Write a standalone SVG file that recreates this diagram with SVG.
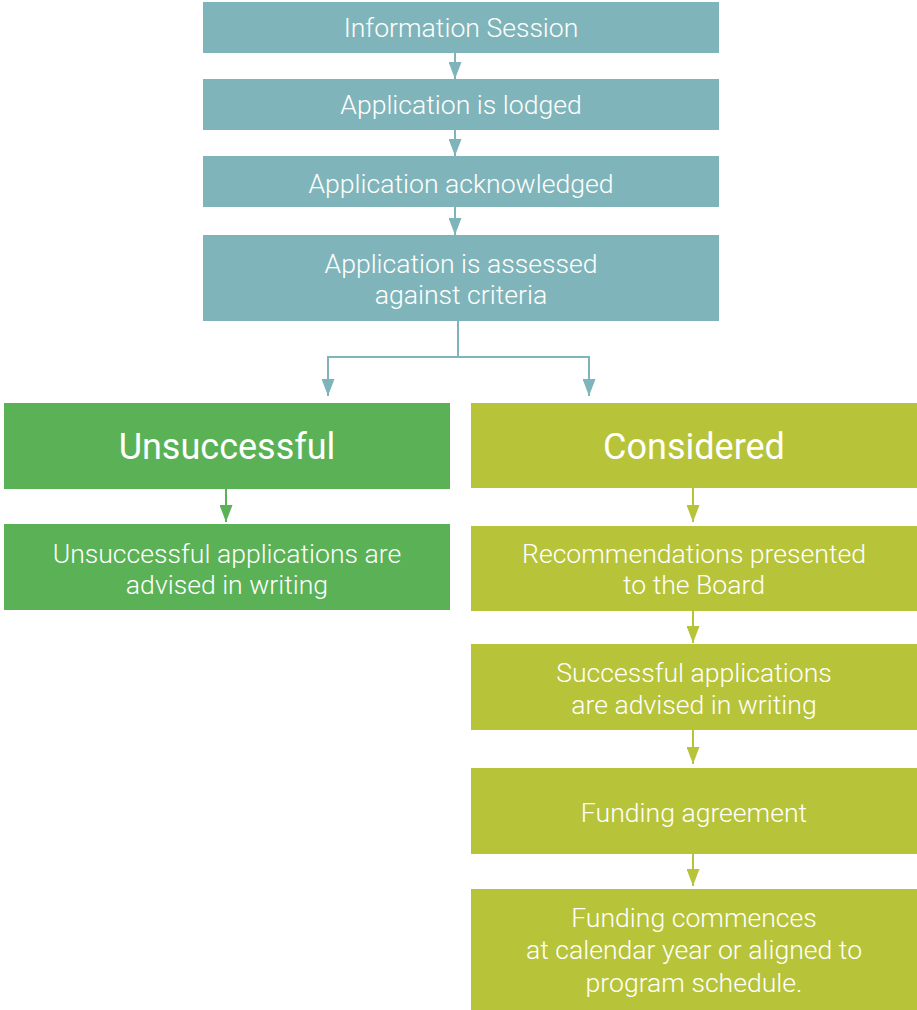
<svg xmlns="http://www.w3.org/2000/svg" width="917" height="1010" viewBox="0 0 917 1010">
  <style>
    .teal { fill: #7fb5ba; }
    .green { fill: #5bb256; }
    .olive { fill: #b7c43a; }
    .lbl { font-family: Roboto, "Liberation Sans", sans-serif; font-weight: 300; font-size: 26.6px; fill: #ffffff; text-anchor: middle; }
    .head { font-family: Roboto, "Liberation Sans", sans-serif; font-weight: 400; font-size: 36px; fill: #ffffff; text-anchor: middle; }
    .ln-teal { stroke: #7fb5ba; stroke-width: 2; fill: none; }
    .ln-green { stroke: #5bb256; stroke-width: 2; fill: none; }
    .ln-olive { stroke: #b7c43a; stroke-width: 2; fill: none; }
  </style>
  <defs>
    <marker id="ah-teal" viewBox="0 0 17 13" refX="17" refY="6.5" markerWidth="17" markerHeight="13" markerUnits="userSpaceOnUse" orient="auto">
      <path d="M0,0 L17,6.5 L0,13 Z" fill="#7fb5ba"/>
    </marker>
    <marker id="ah-green" viewBox="0 0 17 13" refX="17" refY="6.5" markerWidth="17" markerHeight="13" markerUnits="userSpaceOnUse" orient="auto">
      <path d="M0,0 L17,6.5 L0,13 Z" fill="#5bb256"/>
    </marker>
    <marker id="ah-olive" viewBox="0 0 17 13" refX="17" refY="6.5" markerWidth="17" markerHeight="13" markerUnits="userSpaceOnUse" orient="auto">
      <path d="M0,0 L17,6.5 L0,13 Z" fill="#b7c43a"/>
    </marker>
  </defs>

  <g id="connectors">
    <path class="ln-teal" d="M455,53 V79" marker-end="url(#ah-teal)"/>
    <path class="ln-teal" d="M455,130 V156" marker-end="url(#ah-teal)"/>
    <path class="ln-teal" d="M455,207 V235" marker-end="url(#ah-teal)"/>
    <path class="ln-teal" d="M458,321 V357 H328 V396" marker-end="url(#ah-teal)"/>
    <path class="ln-teal" d="M458,357 H589 V396" marker-end="url(#ah-teal)"/>
    <path class="ln-green" d="M226,489 V522" marker-end="url(#ah-green)"/>
    <path class="ln-olive" d="M693,488 V522" marker-end="url(#ah-olive)"/>
    <path class="ln-olive" d="M693,611 V643" marker-end="url(#ah-olive)"/>
    <path class="ln-olive" d="M693,730 V764" marker-end="url(#ah-olive)"/>
    <path class="ln-olive" d="M693,854 V886" marker-end="url(#ah-olive)"/>
  </g>

  <g id="info-session">
    <rect class="teal" x="203" y="2" width="516" height="51"/>
    <text class="lbl" x="461" y="37">Information Session</text>
  </g>
  <g id="lodged">
    <rect class="teal" x="203" y="79" width="516" height="51"/>
    <text class="lbl" x="461" y="114">Application is lodged</text>
  </g>
  <g id="acknowledged">
    <rect class="teal" x="203" y="156" width="516" height="51"/>
    <text class="lbl" x="461" y="193">Application acknowledged</text>
  </g>
  <g id="assessed">
    <rect class="teal" x="203" y="235" width="516" height="86"/>
    <text class="lbl" x="461" y="273">Application is assessed</text>
    <text class="lbl" x="461" y="304">against criteria</text>
  </g>

  <g id="unsuccessful">
    <rect class="green" x="4" y="403" width="446" height="86"/>
    <text class="head" x="227" y="459">Unsuccessful</text>
  </g>
  <g id="unsuccessful-advised">
    <rect class="green" x="4" y="524" width="446" height="86"/>
    <text class="lbl" x="227" y="563">Unsuccessful applications are</text>
    <text class="lbl" x="227" y="594">advised in writing</text>
  </g>

  <g id="considered">
    <rect class="olive" x="471" y="403" width="446" height="85"/>
    <text class="head" x="694" y="459">Considered</text>
  </g>
  <g id="recommendations">
    <rect class="olive" x="471" y="526" width="446" height="85"/>
    <text class="lbl" x="694" y="563">Recommendations presented</text>
    <text class="lbl" x="694" y="594">to the Board</text>
  </g>
  <g id="successful-advised">
    <rect class="olive" x="471" y="644" width="446" height="86"/>
    <text class="lbl" x="694" y="682">Successful applications</text>
    <text class="lbl" x="694" y="714">are advised in writing</text>
  </g>
  <g id="funding-agreement">
    <rect class="olive" x="471" y="768" width="446" height="86"/>
    <text class="lbl" x="694" y="822">Funding agreement</text>
  </g>
  <g id="funding-commences">
    <rect class="olive" x="471" y="889" width="446" height="121"/>
    <text class="lbl" x="694" y="927">Funding commences</text>
    <text class="lbl" x="694" y="959">at calendar year or aligned to</text>
    <text class="lbl" x="694" y="992">program schedule.</text>
  </g>
</svg>
